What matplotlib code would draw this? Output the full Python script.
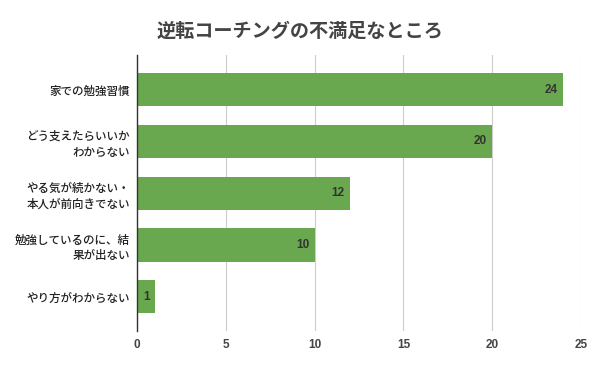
import matplotlib
matplotlib.use('Agg')
import matplotlib.pyplot as plt

plt.rcParams['font.family'] = ['Noto Sans CJK JP', 'DejaVu Sans']

categories = ['家での勉強習慣', 'どう支えたらいいか\nわからない', 'やる気が続かない・\n本人が前向きでない',
              '勉強しているのに、結\n果が出ない', 'やり方がわからない']
values = [24, 20, 12, 10, 1]
xticks = [0, 5, 10, 15, 20, 25]

fig = plt.figure(figsize=(6, 3.71), dpi=100)
ax = fig.add_axes([0.2283, 0.108, 0.74, 0.744])

y = list(range(len(categories)))
ax.barh(y, values, height=0.64, color='#6aa84f', zorder=3)
for yi, v in zip(y, values):
    ax.text(v - 0.3, yi, str(v), ha='right', va='center', fontsize=8.5,
            fontweight='bold', color='#333333', zorder=4, family=['Liberation Sans'])

ax.set_ylim(4.66, -0.67)
ax.set_xlim(0, 25)
ax.set_xticks(xticks)
ax.set_xticklabels([str(t) for t in xticks], fontsize=8.5, fontweight='bold', color='#444444',
                   family=['Liberation Sans'])
ax.set_yticks(y)
ax.set_yticklabels(categories, fontsize=8.3, color='#222222', linespacing=1.3, fontweight='medium')
ax.tick_params(axis='y', length=0, pad=5)
ax.tick_params(axis='x', length=0, pad=6)
ax.grid(axis='x', color='#cccccc', lw=0.8, zorder=0)
for s in ['top', 'right', 'bottom']:
    ax.spines[s].set_visible(False)
ax.spines['left'].set_color('#333333')
ax.spines['left'].set_linewidth(1.0)
ax.spines['left'].set_zorder(5)

fig.text(0.5, 0.915, '逆転コーチングの不満足なところ', ha='center', va='center',
         fontsize=13.8, fontweight='bold', color='#444444')

fig.savefig('out.png', dpi=100)
